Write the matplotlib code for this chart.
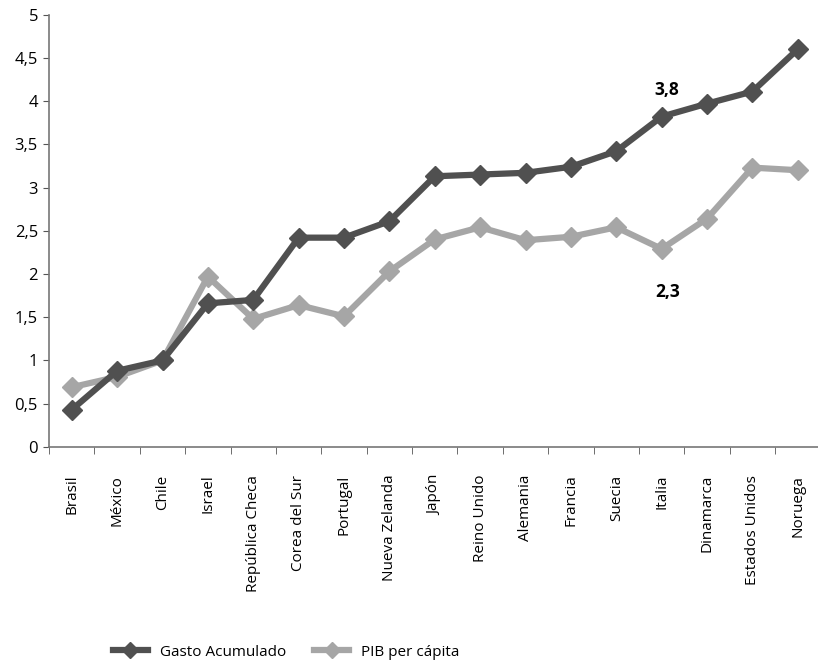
import numpy as np
import matplotlib.pyplot as plt
from matplotlib.ticker import FixedLocator, FuncFormatter

paises = ["Brasil", "México", "Chile", "Israel", "República Checa",
          "Corea del Sur", "Portugal", "Nueva Zelanda", "Japón",
          "Reino Unido", "Alemania", "Francia", "Suecia", "Italia",
          "Dinamarca", "Estados Unidos", "Noruega"]

gasto = [0.43, 0.88, 1.0, 1.66, 1.70, 2.42, 2.42, 2.61, 3.13, 3.15,
         3.17, 3.24, 3.42, 3.82, 3.97, 4.11, 4.60]

pib = [0.69, 0.81, 1.0, 1.97, 1.48, 1.64, 1.51, 2.03, 2.40, 2.54,
       2.39, 2.43, 2.54, 2.29, 2.64, 3.23, 3.20]

plt.rcParams['font.family'] = ['Open Sans', 'DejaVu Sans']

fig = plt.figure(figsize=(8.18, 6.64), dpi=100)
ax = fig.add_axes([0.060, 0.327, 0.943, 0.651])

x = np.arange(len(paises))
ax.plot(x, gasto, color='#505050', lw=4.5, marker='D', ms=10.5,
        label='Gasto Acumulado', zorder=3)
ax.plot(x, pib, color='#a6a6a6', lw=4.5, marker='D', ms=10.5,
        label='PIB per cápita', zorder=2)

# etiquetas de Italia
ax.annotate('3,8', (13, gasto[13]), xytext=(4, 19), textcoords='offset points',
            ha='center', va='center', fontsize=12.5, fontweight='bold')
ax.annotate('2,3', (13, pib[13]), xytext=(4, -31), textcoords='offset points',
            ha='center', va='center', fontsize=12.5, fontweight='bold')

ax.set_xlim(-0.5, len(paises) - 0.5)
ax.set_ylim(0, 5)
ax.set_yticks(np.arange(0, 5.01, 0.5))
ax.yaxis.set_major_formatter(FuncFormatter(
    lambda v, p: ('%g' % v).replace('.', ',')))
ax.tick_params(axis='y', direction='out', length=4, labelsize=12, pad=4,
               color='#555555')

ax.set_xticks(x)
ax.set_xticklabels(paises, rotation=90, fontsize=11)
ax.xaxis.set_minor_locator(FixedLocator(np.arange(-0.5, len(paises), 1)))
ax.tick_params(axis='x', which='major', length=0, pad=20)
ax.tick_params(axis='x', which='minor', direction='out', length=5,
               color='#555555')

for s in ['top', 'right']:
    ax.spines[s].set_visible(False)
for s in ['left', 'bottom']:
    ax.spines[s].set_color('#777777')
    ax.spines[s].set_linewidth(1.2)

fig.legend(loc='center', bbox_to_anchor=(0.35, 0.018), ncol=2, frameon=False,
           fontsize=11, handlelength=2.3, columnspacing=1.8,
           markerscale=0.8)

fig.savefig('out.png', dpi=100)
